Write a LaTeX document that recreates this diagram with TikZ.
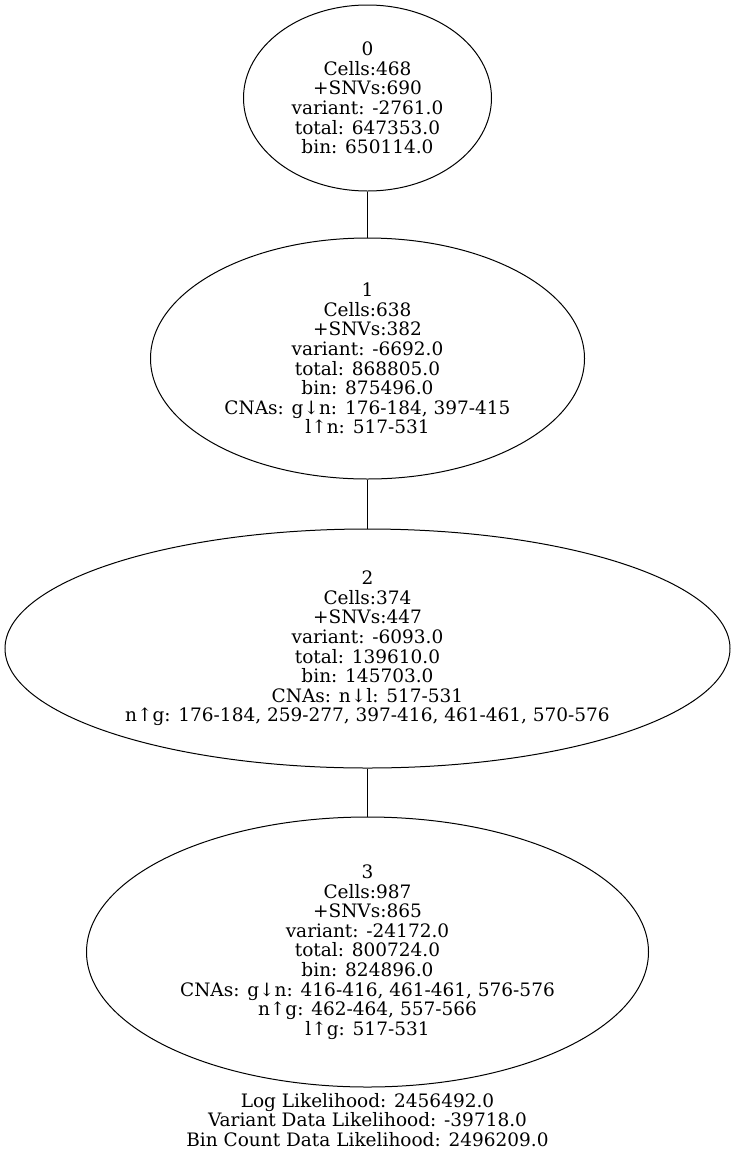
\documentclass[tikz,border=0pt]{standalone}
\usepackage{fontspec}
\setmainfont{DejaVu Serif}
\usetikzlibrary{shapes.geometric}

\tikzset{
	clone/.style = {draw, ellipse, inner sep = 0pt, align = center, line width = 1pt},
	info/.style = {align = center}
}

\begin{document}
\begin{tikzpicture}[x = 1pt, y = -1pt, font = \fontsize{18.5}{19.6}\selectfont]
				%	canvas
				\useasboundingbox (0, 0) rectangle (735, 1157);
				
				\def\xc{367.5}
				
				%	clones
				\node[clone, minimum width = 248, minimum height = 186] (n0) at (\xc, 98)
					{0\\Cells:468\\+SNVs:690\\variant: -2761.0\\total: 647353.0\\bin: 650114.0};
				\node[clone, minimum width = 434, minimum height = 241] (n1) at (\xc, 358.5)
					{1\\Cells:638\\+SNVs:382\\variant: -6692.0\\total: 868805.0\\bin: 875496.0\\CNAs: g↓n: 176-184, 397-415\\l↑n: 517-531};
				\node[clone, minimum width = 725, minimum height = 239] (n2) at (\xc, 648.5)
					{2\\Cells:374\\+SNVs:447\\variant: -6093.0\\total: 139610.0\\bin: 145703.0\\CNAs: n↓l: 517-531\\n↑g: 176-184, 259-277, 397-416, 461-461, 570-576};
				\node[clone, minimum width = 562, minimum height = 270] (n3) at (\xc, 952)
					{3\\Cells:987\\+SNVs:865\\variant: -24172.0\\total: 800724.0\\bin: 824896.0\\CNAs: g↓n: 416-416, 461-461, 576-576\\n↑g: 462-464, 557-566\\l↑g: 517-531};
				
				%	tree edges
				\draw[line width = 1pt] (n0) -- (n1);
				\draw[line width = 1pt] (n1) -- (n2);
				\draw[line width = 1pt] (n2) -- (n3);
				
				%	likelihoods
				\node[info] (lik) at (\xc, 1120)
					{Log Likelihood: 2456492.0\\Variant Data Likelihood: -39718.0\\Bin Count Data Likelihood: 2496209.0};
				\end{tikzpicture}
\end{document}
